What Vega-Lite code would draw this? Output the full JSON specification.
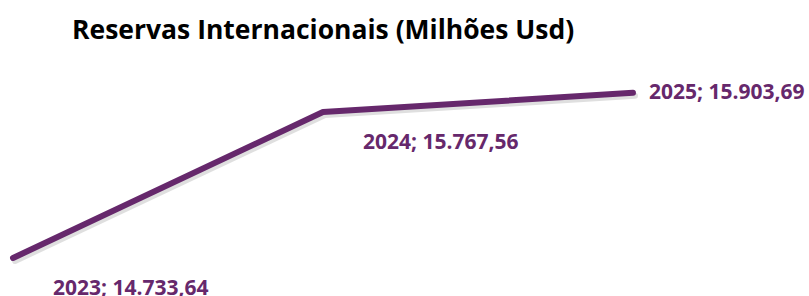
{
  "$schema": "https://vega.github.io/schema/vega-lite/v6.json",
  "width": 809,
  "height": 246,
  "autosize": {"type": "none"},
  "padding": {"left": 0, "top": 50, "right": 0, "bottom": 0},
  "background": "white",
  "config": {"view": {"stroke": null}},
  "title": {
    "text": "Reservas Internacionais (Milhões Usd)",
    "font": "Open Sans",
    "fontSize": 26.5,
    "fontWeight": "bold",
    "color": "#000000",
    "anchor": "start",
    "frame": "group",
    "baseline": "middle",
    "offset": -7,
    "dx": 72
  },
  "data": {
    "values": [
      {"ano": 2023, "valor": 14733.64, "label": "2023; 14.733,64"},
      {"ano": 2024, "valor": 15767.56, "label": "2024; 15.767,56"},
      {"ano": 2025, "valor": 15903.69, "label": "2025; 15.903,69"}
    ]
  },
  "encoding": {
    "x": {"field": "ano", "type": "quantitative", "scale": {"domain": [2022.958, 2025.568], "nice": false, "zero": false}, "axis": null},
    "y": {"field": "valor", "type": "quantitative", "scale": {"domain": [14464.5, 16206.6], "nice": false, "zero": false}, "axis": null}
  },
  "layer": [
    {
      "mark": {"type": "line", "color": "#7f7f7f", "strokeWidth": 6, "strokeCap": "round", "strokeJoin": "round", "opacity": 0.25, "xOffset": 2, "yOffset": 3}
    },
    {
      "mark": {"type": "line", "color": "#66286C", "strokeWidth": 6, "strokeCap": "round", "strokeJoin": "round"}
    },
    {
      "transform": [{"filter": "datum.ano < 2025"}],
      "mark": {"type": "text", "font": "Open Sans", "fontSize": 21, "fontWeight": "bold", "color": "#66286C", "align": "left", "baseline": "middle", "dx": 40, "dy": 31},
      "encoding": {"text": {"field": "label"}}
    },
    {
      "transform": [{"filter": "datum.ano == 2025"}],
      "mark": {"type": "text", "font": "Open Sans", "fontSize": 21, "fontWeight": "bold", "color": "#66286C", "align": "left", "baseline": "middle", "dx": 16, "dy": 0},
      "encoding": {"text": {"field": "label"}}
    }
  ]
}
